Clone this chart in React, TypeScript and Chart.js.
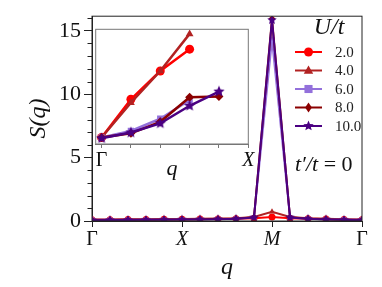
import React, { useEffect, useRef } from 'react';
import { Chart, registerables } from 'chart.js';

Chart.register(...registerables);

// ---------- data ----------
const qIndex = [0, 1, 2, 3, 4, 5, 6, 7, 8, 9, 10, 11, 12, 13, 14, 15];
const mainTickPos = [0, 5, 10, 15];
const mainTickLabels = ['Γ', 'X', 'M', 'Γ'];
const yMajorTicks = [0, 5, 10, 15];

const uLabels = ['2.0', '4.0', '6.0', '8.0', '10.0'];

const sU2 = [0.1, 0.1, 0.11, 0.12, 0.13, 0.14, 0.15, 0.16, 0.18, 0.22, 0.32, 0.22, 0.18, 0.15, 0.12, 0.1];
const sU4 = [0.12, 0.12, 0.13, 0.14, 0.15, 0.16, 0.17, 0.19, 0.22, 0.32, 0.72, 0.32, 0.22, 0.17, 0.14, 0.12];
const sU6 = [0.1, 0.1, 0.1, 0.11, 0.12, 0.13, 0.14, 0.15, 0.18, 0.28, 14.3, 0.28, 0.18, 0.14, 0.12, 0.1];
const sU8 = [0.08, 0.08, 0.09, 0.1, 0.11, 0.12, 0.13, 0.15, 0.18, 0.3, 15.95, 0.3, 0.18, 0.13, 0.1, 0.08];
const sU10 = [0.06, 0.07, 0.08, 0.09, 0.1, 0.11, 0.12, 0.14, 0.17, 0.28, 15.85, 0.28, 0.17, 0.12, 0.09, 0.06];

const insetIndex = [0, 1, 2, 3, 4];
const insetTickPos = [0, 1, 2, 3, 4, 5];
const insetTickLabels = ['Γ', '', '', '', '', 'X'];
const iU2 = [0.017, 0.117, 0.191, 0.248];
const iU4 = [0.017, 0.108, 0.191, 0.288];
const iU6 = [0.017, 0.034, 0.066, 0.115];
const iU8 = [0.017, 0.028, 0.058, 0.122, 0.124];
const iU10 = [0.015, 0.03, 0.054, 0.1, 0.137];

const colors = ['#ff0000', '#b22222', '#9370db', '#8b0000', '#4b0082'];
const markers = ['circle', 'triangle', 'rect', 'rectRot', 'star5'];

const SERIF = "'Liberation Serif', serif";
const INK = '#111111';

// ---------- marker helpers ----------
function starPath(g: CanvasRenderingContext2D, cx: number, cy: number, r: number) {
  g.beginPath();
  for (let k = 0; k < 10; k++) {
    const rad = k % 2 === 0 ? r : r * 0.45;
    const a = -Math.PI / 2 + (k * Math.PI) / 5;
    const px = cx + rad * Math.cos(a);
    const py = cy + rad * Math.sin(a);
    if (k === 0) g.moveTo(px, py);
    else g.lineTo(px, py);
  }
  g.closePath();
}

function makeStar(color: string, r: number) {
  const size = Math.ceil(r * 2 + 2);
  const c = document.createElement('canvas');
  c.width = size;
  c.height = size;
  const g = c.getContext('2d')!;
  starPath(g, size / 2, size / 2, r);
  g.fillStyle = color;
  g.fill();
  return c;
}

function drawMarker(g: CanvasRenderingContext2D, kind: string, x: number, y: number, r: number, color: string) {
  g.save();
  g.fillStyle = color;
  g.beginPath();
  if (kind === 'circle') {
    g.arc(x, y, r, 0, Math.PI * 2);
  } else if (kind === 'triangle') {
    g.moveTo(x, y - r * 1.1);
    g.lineTo(x + r * 1.05, y + r * 0.7);
    g.lineTo(x - r * 1.05, y + r * 0.7);
    g.closePath();
  } else if (kind === 'rect') {
    g.rect(x - r * 0.9, y - r * 0.9, r * 1.8, r * 1.8);
  } else if (kind === 'rectRot') {
    g.moveTo(x, y - r * 1.1);
    g.lineTo(x + r * 0.75, y);
    g.lineTo(x, y + r * 1.1);
    g.lineTo(x - r * 0.75, y);
    g.closePath();
  } else {
    starPath(g, x, y, r * 1.2);
  }
  g.fill();
  g.restore();
}

export default function App() {
  const mainRef = useRef<HTMLCanvasElement>(null);
  const insetRef = useRef<HTMLCanvasElement>(null);

  useEffect(() => {
    const mainSeries = [sU2, sU4, sU6, sU8, sU10];
    const insetSeries = [iU2, iU4, iU6, iU8, iU10];
    const starMain = makeStar(colors[4], 5);
    const starInset = makeStar(colors[4], 6);

    const styleFor = (i: number, star: HTMLCanvasElement): any =>
      markers[i] === 'star5' ? star : markers[i];

    const framePlugin = (color: string) => ({
      id: 'frame',
      afterDatasetsDraw(chart: any) {
        const { ctx, chartArea: a } = chart;
        ctx.save();
        ctx.strokeStyle = color;
        ctx.lineWidth = 1;
        ctx.strokeRect(a.left, a.top, a.right - a.left, a.bottom - a.top);
        ctx.restore();
      },
    });

    const mainDecor = {
      id: 'mainDecor',
      afterDraw(chart: any) {
        const { ctx, chartArea: a } = chart;
        const ys = chart.scales.y;
        ctx.save();
        // minor ticks on y axis
        ctx.strokeStyle = '#222';
        ctx.lineWidth = 1;
        for (let v = 1; v <= 16; v++) {
          if (v % 5 === 0) continue;
          const py = Math.round(ys.getPixelForValue(v)) + 0.5;
          ctx.beginPath();
          ctx.moveTo(a.left - 4.5, py);
          ctx.lineTo(a.left, py);
          ctx.stroke();
        }
        // legend
        ctx.fillStyle = INK;
        ctx.textBaseline = 'middle';
        ctx.textAlign = 'center';
        ctx.font = `italic 24px ${SERIF}`;
        ctx.fillText('U/t', 329, 28);
        ctx.textAlign = 'left';
        ctx.font = `15px ${SERIF}`;
        uLabels.forEach((lab, i) => {
          const y = 52 + i * 18.5;
          ctx.strokeStyle = colors[i];
          ctx.lineWidth = 2;
          ctx.beginPath();
          ctx.moveTo(295, y);
          ctx.lineTo(322, y);
          ctx.stroke();
          drawMarker(ctx, markers[i], 308.5, y, 4.5, colors[i]);
          ctx.fillStyle = '#222';
          ctx.fillText(lab, 335, y + 1);
        });
        // t'/t = 0
        ctx.fillStyle = INK;
        ctx.font = `italic 22px ${SERIF}`;
        const p1 = 't′/t';
        ctx.fillText(p1, 295, 165);
        const w1 = ctx.measureText(p1).width;
        ctx.font = `22px ${SERIF}`;
        ctx.fillText(' = 0', 295 + w1, 165);
        ctx.restore();
      },
    };

    const main = new Chart(mainRef.current!, {
      type: 'line',
      data: {
        datasets: mainSeries.map((s, i) => ({
          label: uLabels[i],
          data: qIndex.map((x, k) => ({ x, y: s[k] })),
          borderColor: colors[i],
          backgroundColor: colors[i],
          borderWidth: 2,
          pointStyle: styleFor(i, starMain),
          pointRadius: 3.5,
          pointBorderWidth: 0,
          order: 4 - i,
        })),
      },
      options: {
        animation: false,
        responsive: false,
        maintainAspectRatio: false,
        events: [],
        layout: { padding: { left: 0, top: 15, right: 20, bottom: 0 } },
        plugins: { legend: { display: false }, tooltip: { enabled: false } },
        scales: {
          x: {
            type: 'linear',
            min: 0,
            max: 15,
            afterBuildTicks: (s: any) => {
              s.ticks = mainTickPos.map((v) => ({ value: v }));
            },
            afterFit: (s: any) => {
              s.height = 66;
            },
            ticks: {
              autoSkip: false,
              maxRotation: 0,
              color: INK,
              padding: 1,
              font: (c: any) => ({
                family: SERIF,
                size: 20,
                style: c.index === 1 || c.index === 2 ? 'italic' : 'normal',
              }),
              callback: (v: any) => mainTickLabels[mainTickPos.indexOf(v)],
            },
            grid: { drawOnChartArea: false, tickLength: 6, tickColor: '#222' },
            border: { color: '#222', width: 1 },
            title: {
              display: true,
              text: 'q',
              color: INK,
              font: { family: SERIF, size: 24, style: 'italic' },
              padding: { top: 0, bottom: 5 },
            },
          },
          y: {
            min: 0,
            max: 16.15,
            afterBuildTicks: (s: any) => {
              s.ticks = yMajorTicks.map((v) => ({ value: v }));
            },
            afterFit: (s: any) => {
              s.width = 92;
            },
            ticks: {
              color: INK,
              padding: 3,
              font: { family: SERIF, size: 22 },
              callback: (v: any) => String(v),
            },
            grid: { drawOnChartArea: false, tickLength: 8, tickColor: '#222' },
            border: { color: '#222', width: 1 },
            title: {
              display: true,
              text: 'S(q)',
              color: INK,
              font: { family: SERIF, size: 24, style: 'italic' },
              padding: { top: 24, bottom: 0 },
            },
          },
        },
      },
      plugins: [framePlugin('#222'), mainDecor],
    } as any);

    const inset = new Chart(insetRef.current!, {
      type: 'line',
      data: {
        datasets: insetSeries.map((s, i) => ({
          label: uLabels[i],
          data: s.map((y, k) => ({ x: insetIndex[k], y })),
          borderColor: colors[i],
          backgroundColor: colors[i],
          borderWidth: 2.5,
          pointStyle: styleFor(i, starInset),
          pointRadius: 4.5,
          pointBorderWidth: 0,
          order: 4 - i,
        })),
      },
      options: {
        animation: false,
        responsive: false,
        maintainAspectRatio: false,
        events: [],
        layout: { padding: { left: 7.7, top: 9.3, right: 11.7, bottom: 0 } },
        plugins: { legend: { display: false }, tooltip: { enabled: false } },
        scales: {
          x: {
            type: 'linear',
            min: -0.2,
            max: 5,
            afterBuildTicks: (s: any) => {
              s.ticks = insetTickPos.map((v) => ({ value: v }));
            },
            afterFit: (s: any) => {
              s.height = 41;
            },
            ticks: {
              autoSkip: false,
              maxRotation: 0,
              color: INK,
              padding: 1,
              font: (c: any) => ({
                family: SERIF,
                size: 20,
                style: c.index === 5 ? 'italic' : 'normal',
              }),
              callback: (v: any) => insetTickLabels[insetTickPos.indexOf(v)],
            },
            grid: { drawOnChartArea: false, tickLength: 4, tickColor: '#777' },
            border: { color: '#777', width: 1 },
            title: {
              display: true,
              text: 'q',
              color: INK,
              font: { family: SERIF, size: 22, style: 'italic' },
              padding: { top: 0, bottom: 3 },
            },
          },
          y: { display: false, min: 0, max: 0.3 },
        },
      },
      plugins: [framePlugin('#777')],
    } as any);

    return () => {
      main.destroy();
      inset.destroy();
    };
  }, []);

  return (
    <div style={{ position: 'absolute', left: 0, top: 0, width: 382, height: 287, background: '#fff' }}>
      <canvas ref={mainRef} width={382} height={287} style={{ position: 'absolute', left: 0, top: 0 }} />
      <canvas ref={insetRef} width={172} height={165} style={{ position: 'absolute', left: 88, top: 20 }} />
    </div>
  );
}
